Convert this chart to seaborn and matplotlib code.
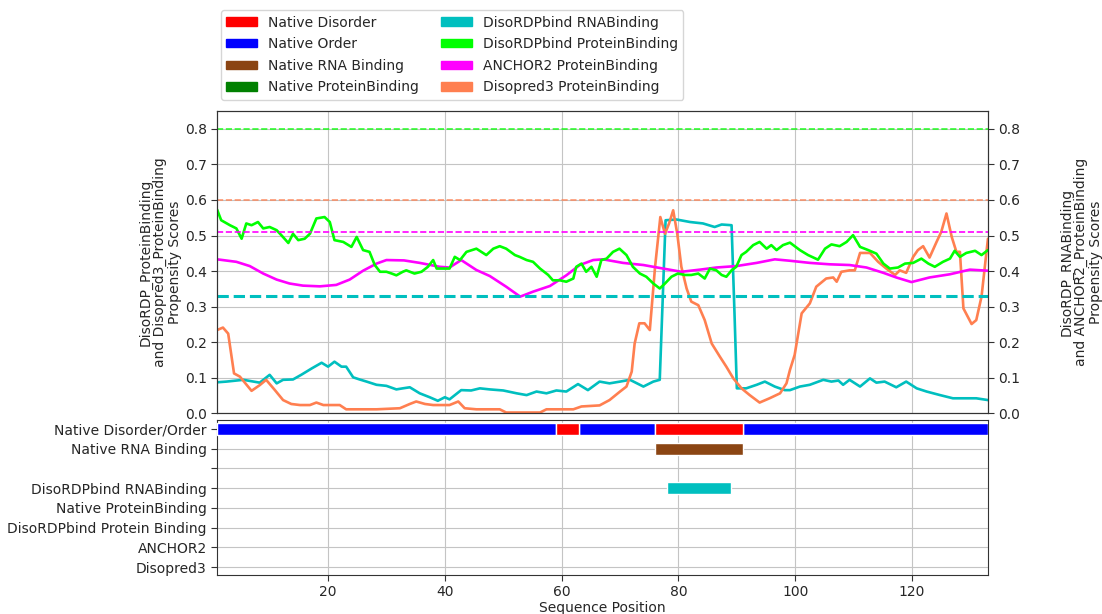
import numpy as np
import pandas as pd
import matplotlib
matplotlib.use("Agg")
import matplotlib.pyplot as plt
from matplotlib.patches import Patch
import seaborn as sns

# ---- data ----
SEQ_START, SEQ_END = 1, 133

# DisoRDPbind protein binding (lime)
prot_x = [1.0, 1.7, 3.2, 4.3, 5.2, 6.0, 6.9, 8.0, 8.9, 10.0, 11.2, 12.0, 13.2, 14.0, 14.9, 16.0,
          16.9, 18.0, 19.4, 20.3, 21.1, 22.6, 24.0, 24.9, 26.0, 27.1, 28.0, 28.9, 30.0, 30.9, 31.7,
          32.8, 33.4, 34.8, 36.0, 37.1, 38.0, 38.6, 39.7, 40.8, 41.7, 42.6, 43.7, 45.4, 47.1, 48.3,
          49.4, 50.5, 52.0, 52.8, 54.0, 55.1, 56.3, 57.7, 58.5, 59.7, 60.8, 62.0, 62.5, 63.4, 64.2,
          65.1, 66.0, 66.8, 67.7, 68.8, 69.9, 71.1, 72.2, 73.4, 74.5, 75.7, 76.8, 77.7, 78.8, 79.9,
          81.1, 82.2, 83.4, 84.5, 85.4, 86.5, 87.4, 88.2, 89.1, 89.9, 90.8, 91.6, 92.8, 93.9, 95.1,
          95.9, 96.8, 97.9, 99.1, 100.8, 102.2, 103.9, 105.1, 106.2, 107.6, 108.8, 109.9, 111.1,
          112.5, 113.9, 115.1, 116.2, 117.6, 118.8, 120.2, 121.6, 122.8, 123.9, 125.3, 126.5,
          127.3, 128.2, 129.3, 130.8, 131.9, 133.0]
prot_y = [0.573, 0.543, 0.529, 0.520, 0.491, 0.534, 0.529, 0.538, 0.520, 0.524, 0.515, 0.501, 0.479,
          0.505, 0.487, 0.491, 0.505, 0.548, 0.552, 0.538, 0.487, 0.482, 0.468, 0.496, 0.459, 0.454,
          0.417, 0.398, 0.398, 0.393, 0.388, 0.398, 0.402, 0.393, 0.398, 0.412, 0.431, 0.407, 0.407,
          0.407, 0.440, 0.431, 0.454, 0.463, 0.445, 0.463, 0.470, 0.463, 0.445, 0.440, 0.431, 0.426,
          0.407, 0.389, 0.374, 0.374, 0.370, 0.379, 0.412, 0.421, 0.398, 0.412, 0.384, 0.431, 0.435,
          0.454, 0.463, 0.445, 0.412, 0.393, 0.384, 0.365, 0.351, 0.365, 0.384, 0.393, 0.389, 0.389,
          0.393, 0.379, 0.407, 0.402, 0.389, 0.384, 0.402, 0.412, 0.445, 0.454, 0.473, 0.482, 0.463,
          0.473, 0.459, 0.473, 0.480, 0.459, 0.445, 0.432, 0.463, 0.475, 0.470, 0.482, 0.501, 0.468,
          0.459, 0.449, 0.421, 0.407, 0.410, 0.421, 0.423, 0.435, 0.421, 0.412, 0.426, 0.435, 0.457,
          0.440, 0.451, 0.457, 0.445, 0.459]

# ANCHOR2 (magenta)
anchor_x = [1.0, 4.3, 6.6, 8.9, 11.2, 13.4, 15.7, 18.6, 21.4, 23.7, 26.0, 28.3, 30.0, 33.0, 35.7,
            39.1, 40.8, 42.8, 45.4, 47.7, 50.5, 52.9, 55.1, 58.0, 60.8, 63.1, 65.4, 67.1, 70.5,
            74.0, 77.4, 80.5, 83.7, 86.5, 89.9, 93.4, 96.5, 99.1, 102.5, 105.9, 109.3, 112.2,
            115.1, 117.3, 119.9, 123.0, 126.5, 129.9, 133.0]
anchor_y = [0.433, 0.426, 0.414, 0.393, 0.376, 0.365, 0.359, 0.357, 0.361, 0.376, 0.401, 0.421, 0.431,
            0.430, 0.423, 0.412, 0.410, 0.431, 0.403, 0.386, 0.356, 0.328, 0.342, 0.358, 0.388, 0.417,
            0.431, 0.433, 0.423, 0.417, 0.407, 0.398, 0.404, 0.410, 0.414, 0.423, 0.433, 0.429, 0.423,
            0.419, 0.417, 0.410, 0.395, 0.382, 0.369, 0.382, 0.391, 0.404, 0.401]

# DisoRDPbind RNA binding (cyan)
rna_x = [1.0, 2.6, 5.5, 8.3, 10.0, 11.2, 12.3, 14.0, 15.4, 17.2, 18.9, 20.0, 21.1, 22.3, 23.1, 24.3,
         25.4, 26.6, 28.3, 30.0, 31.7, 32.8, 34.0, 35.7, 37.4, 38.8, 40.0, 40.8, 42.8, 44.5, 46.0,
         47.7, 50.0, 52.3, 54.0, 55.7, 57.4, 59.1, 60.8, 62.8, 64.5, 66.5, 68.2, 70.0, 71.7, 74.0,
         75.7, 76.8, 77.3, 77.8, 79.7, 82.0, 84.2, 86.2, 87.4, 89.1, 89.6, 90.0, 91.6, 93.4, 94.8,
         96.5, 98.2, 99.1, 100.8, 102.5, 104.8, 106.2, 107.4, 108.2, 109.3, 111.1, 112.8, 113.9,
         115.3, 117.3, 119.0, 120.8, 122.5, 124.8, 127.0, 129.3, 131.0, 133.0]
rna_y = [0.087, 0.089, 0.094, 0.086, 0.108, 0.084, 0.094, 0.095, 0.108, 0.126, 0.142, 0.131, 0.145,
         0.131, 0.131, 0.101, 0.095, 0.089, 0.080, 0.077, 0.067, 0.070, 0.073, 0.056, 0.045, 0.035,
         0.045, 0.039, 0.065, 0.064, 0.070, 0.067, 0.064, 0.056, 0.051, 0.061, 0.056, 0.064, 0.061,
         0.082, 0.065, 0.089, 0.084, 0.089, 0.094, 0.075, 0.089, 0.094, 0.318, 0.543, 0.545, 0.538,
         0.534, 0.524, 0.531, 0.529, 0.281, 0.070, 0.070, 0.080, 0.089, 0.075, 0.065, 0.065, 0.075,
         0.080, 0.094, 0.089, 0.092, 0.080, 0.094, 0.075, 0.098, 0.086, 0.089, 0.073, 0.089, 0.070,
         0.061, 0.051, 0.042, 0.042, 0.042, 0.037]

# Disopred3 protein binding (coral)
dp3_x = [1.0, 2.0, 2.9, 3.9, 4.9, 6.9, 8.3, 9.4, 10.9, 12.3, 13.7, 15.2, 16.9, 18.0, 19.2, 22.0, 23.1,
         25.4, 28.3, 32.3, 34.0, 35.1, 36.6, 38.0, 40.8, 42.3, 43.4, 45.4, 49.4, 50.5, 56.3, 57.4,
         62.0, 63.4, 66.5, 68.2, 70.0, 71.1, 72.0, 72.5, 73.3, 74.2, 75.1, 76.0, 76.9, 77.7, 78.4,
         79.1, 79.8, 80.5, 81.4, 82.2, 83.4, 84.5, 85.7, 87.1, 88.2, 89.4, 90.8, 92.2, 93.9, 95.6,
         97.4, 98.5, 99.1, 99.9, 101.1, 102.5, 103.6, 105.3, 106.5, 107.1, 107.9, 109.3, 110.2,
         111.1, 112.8, 114.2, 115.6, 117.1, 117.9, 119.0, 120.2, 121.0, 121.9, 123.0, 124.2, 125.0,
         125.9, 126.8, 127.6, 128.2, 128.8, 130.2, 131.0, 131.9, 133.0]
dp3_y = [0.234, 0.241, 0.224, 0.112, 0.103, 0.063, 0.079, 0.094, 0.065, 0.037, 0.026, 0.023, 0.023,
         0.030, 0.023, 0.023, 0.011, 0.011, 0.011, 0.014, 0.026, 0.033, 0.026, 0.023, 0.023, 0.033,
         0.014, 0.011, 0.011, 0.002, 0.002, 0.011, 0.011, 0.019, 0.022, 0.037, 0.061, 0.075, 0.117,
         0.196, 0.253, 0.253, 0.234, 0.412, 0.552, 0.505, 0.534, 0.571, 0.505, 0.412, 0.351, 0.314,
         0.304, 0.262, 0.196, 0.159, 0.131, 0.098, 0.070, 0.051, 0.030, 0.042, 0.056, 0.084, 0.122,
         0.164, 0.281, 0.309, 0.356, 0.379, 0.382, 0.370, 0.398, 0.402, 0.402, 0.451, 0.451, 0.426,
         0.407, 0.389, 0.402, 0.395, 0.440, 0.459, 0.470, 0.438, 0.482, 0.510, 0.562, 0.496, 0.454,
         0.454, 0.295, 0.251, 0.262, 0.328, 0.491]

# cut-offs
thr_prot, thr_dp3, thr_anchor, thr_rna = 0.80, 0.60, 0.51, 0.33

# bottom track
track_labels = ["Native Disorder/Order", "Native RNA Binding", "", "DisoRDPbind RNABinding",
                "Native ProteinBinding", "DisoRDPbind Protein Binding", "ANCHOR2", "Disopred3"]
order_spans = [(1, 59), (63, 76), (91, 133)]
disorder_spans = [(59, 63), (76, 91)]
native_rna_spans = [(76, 91)]
pred_rna_spans = [(78, 89)]

C_DIS, C_ORD, C_NRNA, C_NPROT = "#ff0000", "#0000ff", "#8b4513", "#008000"
C_RNA, C_PROT, C_ANC, C_DP3 = "#00bfbf", "#00ff00", "#ff00ff", "#ff7f50"

sns.set_style("whitegrid", {"grid.color": "#c4c4c4", "axes.edgecolor": "#333333"})
plt.rcParams["font.family"] = ["DejaVu Sans"]
plt.rcParams["font.size"] = 10

fig = plt.figure(figsize=(11.02, 6.14), dpi=100)
ax = fig.add_axes([0.197, 0.327, 0.6995, 0.492])
axb = fig.add_axes([0.197, 0.0635, 0.6995, 0.2525])

# ---- score lines ----
for xs, ys, c in [(rna_x, rna_y, C_RNA), (dp3_x, dp3_y, C_DP3),
                  (anchor_x, anchor_y, C_ANC), (prot_x, prot_y, C_PROT)]:
    sns.lineplot(x=xs, y=ys, ax=ax, color=c, lw=1.9, estimator=None, sort=False)

ax.axhline(thr_prot, color=C_PROT, ls="--", lw=1.2, alpha=0.8)
ax.axhline(thr_dp3, color=C_DP3, ls="--", lw=1.2, alpha=0.8)
ax.axhline(thr_anchor, color=C_ANC, ls="--", lw=1.2)
ax.axhline(thr_rna, color=C_RNA, ls="--", lw=2.2)

ax.set_xlim(SEQ_START, SEQ_END)
ax.set_ylim(0, 0.85)
ax.set_yticks(np.arange(0, 0.81, 0.1))
ax.set_xticks(range(20, 121, 20))
ax.set_xticklabels([])
ax.tick_params(axis="both", length=4, left=True, color="#333333")
ax.set_ylabel("DisoRDP_ProteinBinding\nand Disopred3_ProteinBinding\nPropensity Scores",
              linespacing=1.05, labelpad=2)

ax2 = ax.twinx()
ax2.set_ylim(0, 0.85)
ax2.set_yticks(np.arange(0, 0.81, 0.1))
ax2.grid(False)
ax2.tick_params(axis="y", length=4, right=True, color="#333333")
ax2.set_ylabel("DisoRDP_RNABinding\nand ANCHOR2_ProteinBinding\nPropensity Scores",
               labelpad=28, linespacing=1.05)

# ---- annotation tracks ----
for spans, row, c in [(order_spans, 0, C_ORD), (disorder_spans, 0, C_DIS),
                      (native_rna_spans, 1, C_NRNA), (pred_rna_spans, 3, C_RNA)]:
    for a, b in spans:
        axb.barh(row, b - a, left=a, height=0.6, color=c, zorder=3)

axb.set_xlim(SEQ_START, SEQ_END)
axb.set_ylim(7.4, -0.45)
axb.set_yticks(range(len(track_labels)))
axb.set_yticklabels(track_labels)
axb.set_xticks(range(20, 121, 20))
axb.tick_params(axis="both", length=4, left=True, bottom=True, color="#333333")
axb.set_xlabel("Sequence Position", labelpad=1)

handles = [Patch(color=c, label=l) for c, l in [
    (C_DIS, "Native Disorder"), (C_ORD, "Native Order"), (C_NRNA, "Native RNA Binding"),
    (C_NPROT, "Native ProteinBinding"), (C_RNA, "DisoRDPbind RNABinding"),
    (C_PROT, "DisoRDPbind ProteinBinding"), (C_ANC, "ANCHOR2 ProteinBinding"),
    (C_DP3, "Disopred3 ProteinBinding")]]
fig.legend(handles=handles, ncol=2, loc="upper left", bbox_to_anchor=(0.194, 0.995),
           frameon=True, fontsize=10, handlelength=2.2, handleheight=0.55,
           columnspacing=1.6, labelspacing=0.55)

fig.savefig("out.png", dpi=100)
